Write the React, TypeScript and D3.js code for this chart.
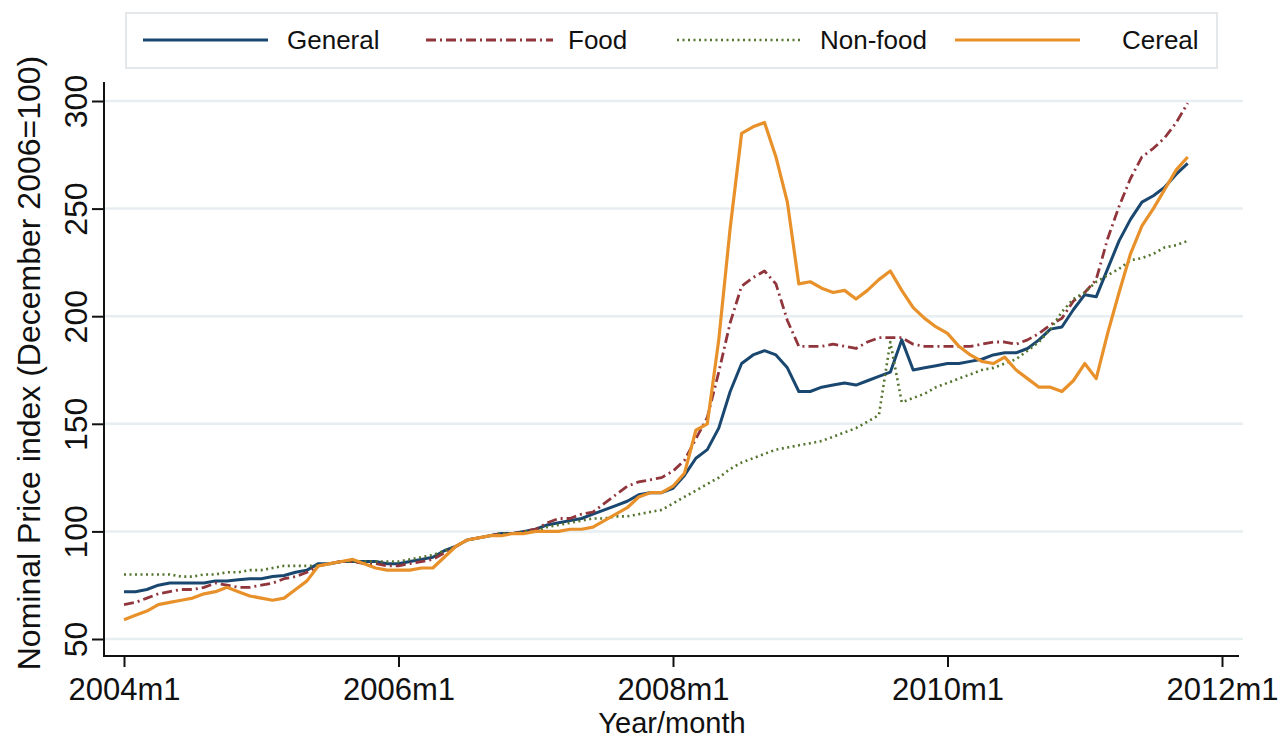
import React, { useEffect, useRef } from "react";
import * as d3 from "d3";

// monthly index numbers, 2004m1 .. 2011m10 (December 2006 = 100)
const general = [
  72, 72, 73, 75, 76, 76, 76, 76, 77, 77, 77.5, 78,
  78, 79, 79.5, 81, 82, 85, 85, 86, 86, 86, 86, 85,
  85, 86, 87, 88, 91, 93, 96, 97, 98, 99, 99, 100,
  101, 103, 104, 105, 106, 108, 110, 112, 114, 117, 118, 118,
  120, 126, 134, 138, 148, 165, 178, 182, 184, 182, 176, 165,
  165, 167, 168, 169, 168, 170, 172, 174, 189, 175, 176, 177,
  178, 178, 179, 180, 182, 183, 183, 185, 189, 194, 195, 203,
  210, 209, 222, 235, 245, 253, 256, 260, 266, 271,
];

const food = [
  66, 67, 69, 71, 72, 73, 73, 74, 76, 75, 74, 74,
  75, 76, 78, 79, 81, 84, 85, 86, 86, 85, 85, 84,
  84, 85, 86, 87, 90, 93, 96, 97, 98, 99, 99, 100,
  101, 104, 106, 106, 108, 109, 113, 117, 121, 123, 124, 125,
  128, 133, 143, 153, 174, 197, 214, 218, 221, 215, 198, 186,
  186, 186, 187, 186, 185, 188, 190, 190, 190, 187, 186, 186,
  186, 186, 186, 187, 188, 188, 187, 189, 192, 196, 199, 207,
  211, 217, 236, 251, 264, 274, 278, 283, 290, 299,
];

const nonFood = [
  80, 80, 80, 80, 80, 79, 79, 80, 80, 81, 81, 82,
  82, 83, 84, 84, 84, 84, 85, 86, 86, 86, 86, 86,
  86, 87, 88, 89, 91, 93, 96, 97, 98, 99, 99, 100,
  100, 102, 103, 104, 105, 106, 106, 107, 107, 108, 109, 110,
  113, 116, 119, 122, 125, 129, 132, 134, 136, 138, 139, 140,
  141, 142, 144, 146, 148, 151, 154, 188, 160, 162, 164, 167,
  169, 171, 173, 175, 176, 178, 180, 184, 188, 194, 202, 208,
  211, 216, 219, 222, 226, 227, 229, 232, 233, 235,
];

const cereal = [
  59, 61, 63, 66, 67, 68, 69, 71, 72, 74, 72, 70,
  69, 68, 69, 73, 77, 84, 85, 86, 87, 85, 83, 82,
  82, 82, 83, 83, 88, 93, 96, 97, 98, 98, 99, 99,
  100, 100, 100, 101, 101, 102, 105, 108, 111, 116, 118, 118,
  121, 127, 147, 150, 189, 241, 285, 288, 290, 274, 253, 215,
  216, 213, 211, 212, 208, 212, 217, 221, 212, 204, 199, 195,
  192, 186, 182, 179, 178, 181, 175, 171, 167, 167, 165, 170,
  178, 171, 192, 211, 229, 242, 250, 259, 268, 274,
];

const seriesNames = ["General", "Food", "Non-food", "Cereal"];
const xTickMonths = [0, 24, 48, 72, 96];
const xTickLabels = ["2004m1", "2006m1", "2008m1", "2010m1", "2012m1"];
const yTicks = [50, 100, 150, 200, 250, 300];

const W = 1281;
const H = 739;
const FONT = "'Liberation Sans', Arial, sans-serif";

// line styles (colour, width, dash) per series
const styles = [
  { color: "#1a476f", width: 3, dash: null },
  { color: "#90353b", width: 2.8, dash: "10,4,2,4" },
  { color: "#55752f", width: 2.6, dash: "2,3.5" },
  { color: "#e8912a", width: 3.2, dash: null },
];

// legend slots: line start/end and text x
const legendSlots = [
  { x1: 143, x2: 268, tx: 287 },
  { x1: 426, x2: 553, tx: 568 },
  { x1: 677, x2: 803, tx: 820 },
  { x1: 955, x2: 1080, tx: 1122 },
];

const App: React.FC = () => {
  const svgRef = useRef<SVGSVGElement>(null);

  useEffect(() => {
    if (!svgRef.current) return;
    const svg = d3.select(svgRef.current);
    svg.selectAll("*").remove();

    const seriesData = [general, food, nonFood, cereal];

    const axisLeftX = 104;
    const axisBottomY = 656;

    const x = d3.scaleLinear().domain([0, 96]).range([124, 1222]);
    const y = d3.scaleLinear().domain([50, 300]).range([639, 101]);

    svg.append("rect").attr("width", W).attr("height", H).attr("fill", "#ffffff");

    // grid
    svg
      .append("g")
      .selectAll("line")
      .data(yTicks)
      .enter()
      .append("line")
      .attr("x1", axisLeftX)
      .attr("x2", 1243)
      .attr("y1", (d) => y(d))
      .attr("y2", (d) => y(d))
      .attr("stroke", "#e7eef1")
      .attr("stroke-width", 2.5);

    // y axis
    const yAxis = svg
      .append("g")
      .attr("transform", `translate(${axisLeftX},0)`)
      .call(
        d3
          .axisLeft(y)
          .tickValues(yTicks)
          .tickSize(12)
          .tickSizeOuter(0)
          .tickFormat((d) => String(d))
      );
    yAxis.select(".domain").remove();
    yAxis.selectAll(".tick line").attr("stroke", "#111").attr("stroke-width", 2);
    yAxis
      .selectAll(".tick text")
      .attr("transform", "rotate(-90)")
      .attr("x", 0)
      .attr("y", -17)
      .attr("dy", 0)
      .attr("text-anchor", "middle")
      .attr("fill", "#111")
      .style("font-family", FONT)
      .style("font-size", "32px");
    svg
      .append("line")
      .attr("x1", axisLeftX)
      .attr("x2", axisLeftX)
      .attr("y1", 82)
      .attr("y2", axisBottomY + 1)
      .attr("stroke", "#111")
      .attr("stroke-width", 2);

    // x axis
    const xAxis = svg
      .append("g")
      .attr("transform", `translate(0,${axisBottomY})`)
      .call(
        d3
          .axisBottom(x)
          .tickValues(xTickMonths)
          .tickSize(11)
          .tickSizeOuter(0)
          .tickFormat((_d, i) => xTickLabels[i])
      );
    xAxis.select(".domain").remove();
    xAxis.selectAll(".tick line").attr("stroke", "#111").attr("stroke-width", 2);
    xAxis
      .selectAll(".tick text")
      .attr("y", 22)
      .attr("fill", "#111")
      .style("font-family", FONT)
      .style("font-size", "31px");
    svg
      .append("line")
      .attr("x1", axisLeftX - 1)
      .attr("x2", 1239)
      .attr("y1", axisBottomY)
      .attr("y2", axisBottomY)
      .attr("stroke", "#111")
      .attr("stroke-width", 2);

    // axis titles
    svg
      .append("text")
      .attr("x", 672)
      .attr("y", 733)
      .attr("text-anchor", "middle")
      .attr("fill", "#111")
      .style("font-family", FONT)
      .style("font-size", "29px")
      .text("Year/month");

    svg
      .append("text")
      .attr("transform", "translate(40,363) rotate(-90)")
      .attr("text-anchor", "middle")
      .attr("fill", "#111")
      .style("font-family", FONT)
      .style("font-size", "32px")
      .text("Nominal Price index (December 2006=100)");

    // lines
    const line = d3
      .line<number>()
      .x((_d, i) => x(i))
      .y((d) => y(d));

    svg
      .append("g")
      .selectAll("path")
      .data(seriesData)
      .enter()
      .append("path")
      .attr("d", (d) => line(d) || "")
      .attr("fill", "none")
      .attr("stroke", (_d, i) => styles[i].color)
      .attr("stroke-width", (_d, i) => styles[i].width)
      .attr("stroke-dasharray", (_d, i) => styles[i].dash)
      .attr("stroke-linejoin", "round");

    // legend
    const legend = svg.append("g");
    legend
      .append("rect")
      .attr("x", 126)
      .attr("y", 13)
      .attr("width", 1091)
      .attr("height", 55)
      .attr("fill", "#ffffff")
      .attr("stroke", "#e4e8ea")
      .attr("stroke-width", 2);

    const items = legend
      .selectAll(".legend-item")
      .data(seriesNames)
      .enter()
      .append("g")
      .attr("class", "legend-item");

    items
      .append("line")
      .attr("x1", (_d, i) => legendSlots[i].x1)
      .attr("x2", (_d, i) => legendSlots[i].x2)
      .attr("y1", 40)
      .attr("y2", 40)
      .attr("stroke", (_d, i) => styles[i].color)
      .attr("stroke-width", (_d, i) => styles[i].width)
      .attr("stroke-dasharray", (_d, i) => styles[i].dash);

    items
      .append("text")
      .attr("x", (_d, i) => legendSlots[i].tx)
      .attr("y", 49)
      .attr("fill", "#111")
      .style("font-family", FONT)
      .style("font-size", "26px")
      .text((d) => d);
  }, []);

  return (
    <svg
      ref={svgRef}
      width={W}
      height={H}
      style={{ position: "absolute", left: 0, top: 0, display: "block" }}
    />
  );
};

export default App;
